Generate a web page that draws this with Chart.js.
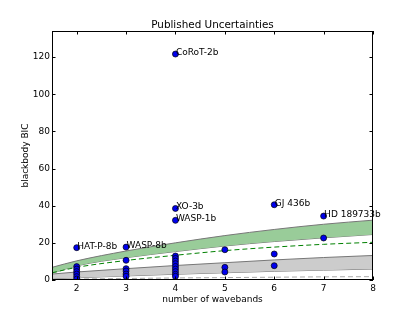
<!DOCTYPE html>
<html>
<head>
<meta charset="utf-8">
<script src="https://cdn.jsdelivr.net/npm/chart.js@4"></script>
<style>
  html, body { margin: 0; padding: 0; background: #fff; }
  #wrap { width: 415px; height: 312px; }
</style>
</head>
<body>
<div id="wrap"><canvas id="bic" width="415" height="312"></canvas></div>
<script>
// Published uncertainties: blackbody BIC vs number of wavebands

const titleText = 'Published Uncertainties';
const xTicks = [2, 3, 4, 5, 6, 7, 8];
const yTicks = [0, 20, 40, 60, 80, 100, 120];

// named planets
const planetNames = ['HAT-P-8b', 'WASP-8b', 'CoRoT-2b', 'XO-3b', 'WASP-1b', 'GJ 436b', 'HD 189733b'];
const planetX     = [2, 3, 4, 4, 4, 6, 7];
const planetY     = [17.4, 17.7, 121.6, 38.5, 32.1, 40.5, 34.4];

// unlabelled planets
const otherX = [2, 2, 2, 2, 2, 2,
                3, 3, 3, 3, 3,
                4, 4, 4, 4, 4, 4, 4, 4, 4,
                5, 5, 5,
                6, 6,
                7];
const otherY = [7.2, 5.9, 4.5, 3.2, 1.8, 0.5,
                10.6, 6.1, 4.8, 3.2, 2.0,
                12.9, 11.6, 10.2, 8.8, 7.3, 5.9, 4.5, 3.1, 2.0,
                16.3, 6.8, 4.3,
                14.0, 7.7,
                22.6];

// threshold curves, sampled at curveX
const curveX      = [1.5, 2, 3, 4, 5, 6, 7, 8];
const greenUpper  = [6.8, 10.3, 15.6, 20.0, 23.9, 27.2, 30.0, 32.2];
const greenLower  = [3.6, 7.6, 12.0, 15.3, 18.3, 20.7, 22.7, 24.5];
const greenDashed = [3.9, 6.8, 10.5, 13.3, 15.8, 17.7, 19.2, 20.3];
const grayUpper   = [3.2, 4.3, 6.1, 7.8, 9.3, 10.8, 12.1, 13.2];
const grayLower   = [0.7, 1.2, 2.2, 3.1, 3.9, 4.7, 5.3, 5.9];
const grayDashed  = [0.2, 0.5, 0.8, 1.1, 1.3, 1.5, 1.7, 1.8];

function pts(xs, ys) {
  return xs.map((x, i) => ({ x, y: ys[i] }));
}

function curve(ys, opts) {
  return Object.assign({
    type: 'line',
    data: pts(curveX, ys),
    showLine: true,
    pointRadius: 0,
    borderWidth: 1,
    cubicInterpolationMode: 'monotone',
    fill: false,
    order: 2,
  }, opts);
}

// matplotlib-style frame with inward ticks on all four sides, title over the axes
const framePlugin = {
  id: 'frame',
  afterDraw(chart) {
    const { ctx, chartArea: a, scales } = chart;
    const len = 3.5;
    ctx.save();
    ctx.strokeStyle = '#000';
    ctx.lineWidth = 1;
    ctx.strokeRect(a.left + 0.5, a.top + 0.5, a.right - a.left - 1, a.bottom - a.top - 1);
    ctx.beginPath();
    scales.x.ticks.forEach(t => {
      const px = Math.round(scales.x.getPixelForValue(t.value)) + 0.5;
      ctx.moveTo(px, a.bottom); ctx.lineTo(px, a.bottom - len);
      ctx.moveTo(px, a.top);    ctx.lineTo(px, a.top + len);
    });
    scales.y.ticks.forEach(t => {
      const py = Math.round(scales.y.getPixelForValue(t.value)) + 0.5;
      ctx.moveTo(a.left, py);  ctx.lineTo(a.left + len, py);
      ctx.moveTo(a.right, py); ctx.lineTo(a.right - len, py);
    });
    ctx.stroke();

    ctx.font = '10.4px "DejaVu Sans"';
    ctx.fillStyle = '#000';
    ctx.textAlign = 'center';
    ctx.textBaseline = 'alphabetic';
    ctx.fillText(titleText, (a.left + a.right) / 2, a.top - 3);
    ctx.restore();
  }
};

// planet name annotations
const namePlugin = {
  id: 'names',
  afterDatasetsDraw(chart) {
    const { ctx, scales } = chart;
    ctx.save();
    ctx.font = '9px "DejaVu Sans"';
    ctx.fillStyle = '#000';
    ctx.textAlign = 'left';
    ctx.textBaseline = 'alphabetic';
    planetNames.forEach((name, i) => {
      const px = scales.x.getPixelForValue(planetX[i]);
      const py = scales.y.getPixelForValue(planetY[i]);
      ctx.fillText(name, px + 0.5, py + 1);
    });
    ctx.restore();
  }
};

Chart.defaults.font.family = '"DejaVu Sans", sans-serif';
Chart.defaults.color = '#000';

new Chart(document.getElementById('bic'), {
  type: 'scatter',
  data: {
    datasets: [
      {
        label: 'named',
        data: pts(planetX, planetY),
        pointRadius: 3,
        backgroundColor: '#0000ee',
        borderColor: '#000',
        borderWidth: 0.7,
        order: 0,
      },
      {
        label: 'other',
        data: pts(otherX, otherY),
        pointRadius: 3,
        backgroundColor: '#0000ee',
        borderColor: '#000',
        borderWidth: 0.7,
        order: 0,
      },
      curve(greenUpper, { borderColor: '#777', fill: '+1', backgroundColor: '#99cc99', order: 3 }),
      curve(greenLower, { borderColor: '#777', order: 3 }),
      curve(grayUpper,  { borderColor: '#777', fill: '+1', backgroundColor: '#cccccc', order: 3 }),
      curve(grayLower,  { borderColor: '#777', order: 3 }),
      curve(greenDashed, { borderColor: '#008000', borderDash: [5, 3], order: 1 }),
      curve(grayDashed,  { borderColor: '#aaaaaa', borderDash: [5, 3], order: 1 }),
    ]
  },
  options: {
    responsive: false,
    animation: false,
    events: [],
    layout: { padding: { left: 0, right: 42, top: 31, bottom: 0 } },
    plugins: {
      legend: { display: false },
      tooltip: { enabled: false },
      title: { display: false },
    },
    scales: {
      x: {
        type: 'linear',
        min: 1.5,
        max: 8,
        afterBuildTicks: s => { s.ticks = xTicks.map(v => ({ value: v })); },
        afterFit: s => { s.height = 32; },
        grid: { display: false, drawTicks: false },
        border: { display: false },
        ticks: { font: { size: 9 }, padding: 3, maxRotation: 0 },
        title: { display: true, text: 'number of wavebands', font: { size: 9 }, padding: { top: 0, bottom: 7 } },
      },
      y: {
        type: 'linear',
        min: 0,
        max: 134,
        afterBuildTicks: s => { s.ticks = yTicks.map(v => ({ value: v })); },
        afterFit: s => { s.width = 52; },
        grid: { display: false, drawTicks: false },
        border: { display: false },
        ticks: { font: { size: 9 }, padding: 2 },
        title: { display: true, text: 'blackbody BIC', font: { size: 9 }, padding: { top: 20, bottom: 0 } },
      },
    },
  },
  plugins: [framePlugin, namePlugin],
});
</script>
</body>
</html>
